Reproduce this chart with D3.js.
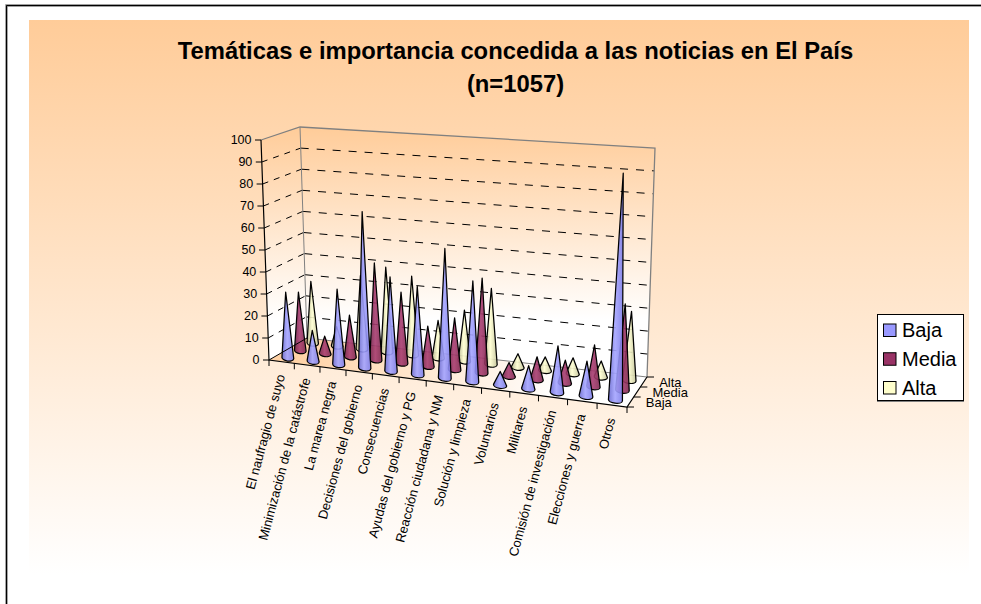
<!DOCTYPE html>
<html>
<head>
<meta charset="utf-8">
<script src="https://cdn.jsdelivr.net/npm/d3@7"></script>
<style>
  html, body { margin: 0; padding: 0; background: #fff; }
  svg { display: block; font-family: "Liberation Sans", Arial, sans-serif; }
</style>
</head>
<body>
<svg id="chart" width="981" height="604"></svg>
<script>
const categories = ['El naufragio de suyo', 'Minimización de la catástrofe', 'La marea negra',
    'Decisiones del gobierno', 'Consecuencias', 'Ayudas del gobierno y PG',
    'Reacción ciudadana y NM', 'Solución y limpieza', 'Voluntarios', 'Militares',
    'Comisión de investigación', 'Elecciones y guerra', 'Otros'];
const seriesNames = ['Baja', 'Media', 'Alta'];
const baja = [30, 14, 34, 70, 42, 39, 57, 44, 6, 10, 20, 15, 96];
const media = [27, 8, 19, 44, 32, 18, 23, 42, 6, 10, 10, 18, 37];
const alta = [29, 9, 34, 39, 36, 17, 23, 34, 6, 6, 7, 7, 30];
const valueTicks = [0, 10, 20, 30, 40, 50, 60, 70, 80, 90, 100];

const seriesValues = { Baja: baja, Media: media, Alta: alta };
const seriesColors = {
    Baja: ['#6a6ad0', '#a4a4ff', '#7c7ce6', '#9999ff'],
    Media: ['#702048', '#a83c70', '#7e2850', '#993366'],
    Alta: ['#b4b48c', '#ffffd2', '#c4c49a', '#ffffcc']
};

const svg = d3.select('#chart');
const defs = svg.append('defs');

// Corners of the 3D box on screen, f = front, b = back, l = left, r = right
const box = {
    bottom: { fl: [269, 360], fr: [627, 407], bl: [307, 338], br: [647, 377] },
    top: { fl: [261, 140], fr: [636, 168], bl: [300, 127], br: [655, 148] }
};

const u = d3.scaleBand().domain(categories).range([0, 1]);
const v = d3.scaleBand().domain(seriesNames).range([0, 1]);
const z = d3.scaleLinear().domain([0, 100]).range([0, 1]);

// Perspective makes the categories wider towards the right
function warp(t) {
    const r = 1.095;
    return t / (t + r * (1 - t));
}

function bilerp(c, s, t) {
    const front = d3.interpolate(c.fl, c.fr)(s);
    const back = d3.interpolate(c.bl, c.br)(s);
    return d3.interpolate(front, back)(t);
}

function project(a, b, value) {
    const s = warp(a);
    return d3.interpolate(bilerp(box.bottom, s, b), bilerp(box.top, s, b))(z(value));
}

const pts = list => list.map(p => p.join(',')).join(' ');

// Backgrounds
const panelGrad = defs.append('linearGradient').attr('id', 'panelGrad')
    .attr('x1', 0).attr('y1', 0).attr('x2', 0).attr('y2', 1);
panelGrad.append('stop').attr('offset', 0).attr('stop-color', '#ffcc99');
panelGrad.append('stop').attr('offset', 1).attr('stop-color', '#ffffff');

const wallGrad = defs.append('linearGradient').attr('id', 'wallGrad')
    .attr('gradientUnits', 'userSpaceOnUse')
    .attr('x1', 0).attr('y1', 127).attr('x2', 0).attr('y2', 320);
wallGrad.append('stop').attr('offset', 0).attr('stop-color', '#ffcc99');
wallGrad.append('stop').attr('offset', 1).attr('stop-color', '#ffffff');

const floorGrad = defs.append('linearGradient').attr('id', 'floorGrad')
    .attr('gradientUnits', 'userSpaceOnUse')
    .attr('x1', 300).attr('y1', 340).attr('x2', 560).attr('y2', 390);
floorGrad.append('stop').attr('offset', 0).attr('stop-color', '#ffd2a6');
floorGrad.append('stop').attr('offset', 1).attr('stop-color', '#ffffff');

svg.append('rect').attr('x', 29).attr('y', 20).attr('width', 940).attr('height', 555)
    .attr('fill', 'url(#panelGrad)');

// Frame only runs along the top and the left
svg.append('path').attr('d', 'M6.5,604V5.5H981').attr('fill', 'none')
    .attr('stroke', '#808080').attr('stroke-width', 2.4);
svg.append('path').attr('d', 'M6.5,604V5.5H981').attr('fill', 'none')
    .attr('stroke', '#000').attr('stroke-width', 1);

// Title
const title = svg.append('text').attr('text-anchor', 'middle')
    .style('font-size', '23.8px').style('font-weight', 'bold').attr('fill', '#000');
title.append('tspan').attr('x', 515.5).attr('y', 59)
    .text('Temáticas e importancia concedida a las noticias en El País');
title.append('tspan').attr('x', 515.5).attr('y', 92).text('(n=1057)');

// Walls and floor
const g = svg.append('g');
g.append('polygon').attr('points', pts([box.bottom.fl, box.bottom.bl, box.top.bl, box.top.fl]))
    .attr('fill', 'url(#wallGrad)');
g.append('polygon').attr('points', pts([box.bottom.bl, box.bottom.br, box.top.br, box.top.bl]))
    .attr('fill', 'url(#wallGrad)');
g.append('polygon').attr('points', pts([box.bottom.fl, box.bottom.fr, box.bottom.br, box.bottom.bl]))
    .attr('fill', 'url(#floorGrad)');

// Dashed gridlines on the two walls
valueTicks.filter(d => d > 0 && d < 100).forEach(d => {
    g.append('line')
        .attr('x1', project(0, 0, d)[0]).attr('y1', project(0, 0, d)[1])
        .attr('x2', project(0, 1, d)[0]).attr('y2', project(0, 1, d)[1])
        .attr('stroke', '#000').attr('stroke-dasharray', '6,6');
    g.append('line')
        .attr('x1', project(0, 1, d)[0]).attr('y1', project(0, 1, d)[1])
        .attr('x2', project(1, 1, d)[0]).attr('y2', project(1, 1, d)[1])
        .attr('stroke', '#000').attr('stroke-dasharray', '8,8');
});

// Grey outline of the walls
g.append('path')
    .attr('d', d3.line()([box.top.fl, box.top.bl, box.top.br, box.bottom.br]))
    .attr('fill', 'none').attr('stroke', '#808080').attr('stroke-width', 1.3);
g.append('path').attr('d', d3.line()([box.top.bl, box.bottom.bl, box.bottom.br]))
    .attr('fill', 'none').attr('stroke', '#808080').attr('stroke-width', 1);

// Cones, back row first so the front ones overlap
seriesNames.slice().reverse().forEach(name => {
    const c = seriesColors[name];
    const gradId = 'cone' + name;
    const grad = defs.append('linearGradient').attr('id', gradId)
        .attr('x1', 0).attr('y1', 0).attr('x2', 1).attr('y2', 0);
    grad.append('stop').attr('offset', 0).attr('stop-color', c[0]);
    grad.append('stop').attr('offset', 0.45).attr('stop-color', c[1]);
    grad.append('stop').attr('offset', 1).attr('stop-color', c[2]);

    categories.forEach((cat, i) => {
        const cu = u(cat) + u.bandwidth() / 2;
        const cv = v(name) + v.bandwidth() / 2;
        const half = u.bandwidth() * 0.235;
        const left = project(cu - half, cv, 0);
        const right = project(cu + half, cv, 0);
        const apex = project(cu, cv, seriesValues[name][i]);
        const rx = Math.hypot(right[0] - left[0], right[1] - left[1]) / 2;
        const angle = Math.atan2(right[1] - left[1], right[0] - left[0]) * 180 / Math.PI;
        const ry = 3.1;
        g.append('path')
            .attr('d', `M${apex}L${left}A${rx},${ry} ${angle} 0 0 ${right}Z`)
            .attr('fill', `url(#${gradId})`).attr('fill-opacity', 0.9)
            .attr('stroke', '#000').attr('stroke-width', 1.25)
            .attr('stroke-linejoin', 'round');
    });
});

// Axis lines on top
g.append('path').attr('d', d3.line()([box.top.fl, box.bottom.fl, box.bottom.fr, box.bottom.br]))
    .attr('fill', 'none').attr('stroke', '#000').attr('stroke-width', 1.2);
g.append('line')
    .attr('x1', box.bottom.fl[0]).attr('y1', box.bottom.fl[1])
    .attr('x2', box.bottom.bl[0]).attr('y2', box.bottom.bl[1])
    .attr('stroke', '#000');

// Value axis
valueTicks.forEach(d => {
    const p = project(0, 0, d);
    g.append('line').attr('x1', p[0] - 6).attr('x2', p[0]).attr('y1', p[1]).attr('y2', p[1])
        .attr('stroke', '#000');
    g.append('text').attr('x', p[0] - 9.5).attr('y', p[1] + 4).attr('text-anchor', 'end')
        .style('font-size', '12.5px').attr('fill', '#000').text(d);
});

// Category axis
d3.range(categories.length + 1).forEach(i => {
    const p = project(i / categories.length, 0, 0);
    g.append('line').attr('x1', p[0]).attr('x2', p[0]).attr('y1', p[1]).attr('y2', p[1] + 6)
        .attr('stroke', '#000');
});
categories.forEach(cat => {
    const p = project(u(cat) + u.bandwidth() / 2, 0, 0);
    g.append('text')
        .attr('transform', `translate(${p[0] - 1},${p[1] + 13}) rotate(-75)`)
        .attr('text-anchor', 'end').attr('dy', '0.35em')
        .style('font-size', '13px').attr('fill', '#000').text(cat);
});

// Depth axis
d3.range(seriesNames.length + 1).forEach(i => {
    const p = project(1, i / seriesNames.length, 0);
    g.append('line').attr('x1', p[0]).attr('x2', p[0] + 7).attr('y1', p[1]).attr('y2', p[1])
        .attr('stroke', '#000');
});
seriesNames.forEach(name => {
    const p = project(1, v(name) + v.bandwidth() / 2, 0);
    g.append('text').attr('x', p[0] + 15.5).attr('y', p[1] + 4.5)
        .style('font-size', '13px').attr('fill', '#000').text(name);
});

// Legend
const legend = svg.append('g');
legend.append('rect').attr('x', 877.5).attr('y', 314.5).attr('width', 86).attr('height', 86)
    .attr('fill', '#fff').attr('stroke', '#000');
legend.append('line').attr('x1', 877).attr('x2', 964).attr('y1', 401.5).attr('y2', 401.5)
    .attr('stroke', '#808080');
const legendY = d3.scalePoint().domain(seriesNames).range([330, 387.5]);
seriesNames.forEach(name => {
    legend.append('rect').attr('x', 883.5).attr('y', legendY(name) - 6)
        .attr('width', 12.5).attr('height', 12.5)
        .attr('fill', seriesColors[name][3]).attr('stroke', '#000');
    legend.append('text').attr('x', 902).attr('y', legendY(name) + 7)
        .style('font-size', '20px').attr('fill', '#000').text(name);
});
</script>
</body>
</html>
